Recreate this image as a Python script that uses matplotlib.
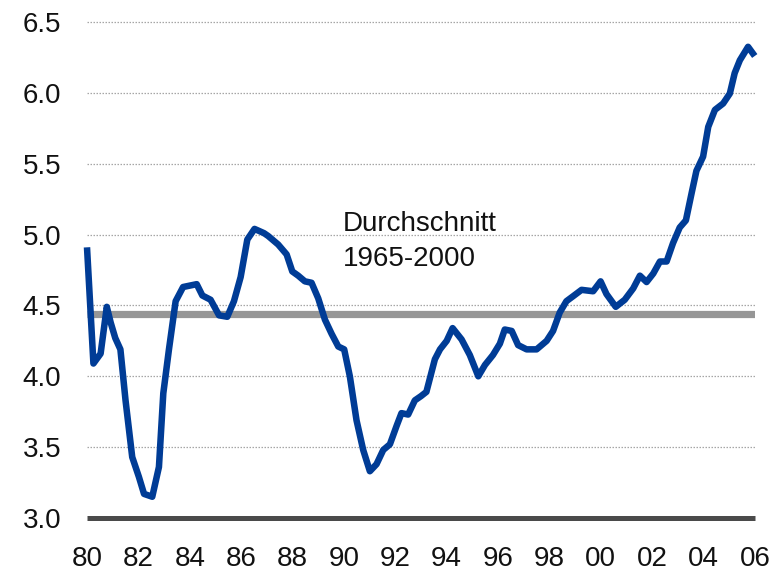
import matplotlib
matplotlib.use("Agg")
import matplotlib.pyplot as plt

years = [1980.0, 1980.25, 1980.53, 1980.77, 1980.92, 1981.1, 1981.3, 1981.5, 1981.76, 1982.02,
         1982.22, 1982.54, 1982.8, 1982.97, 1983.19, 1983.45, 1983.74, 1984.27, 1984.49, 1984.81,
         1985.14, 1985.46, 1985.72, 1985.98, 1986.24, 1986.52, 1986.89, 1987.05, 1987.44, 1987.77,
         1987.99, 1988.22, 1988.48, 1988.74, 1989.0, 1989.26, 1989.52, 1989.78, 1990.01, 1990.23,
         1990.49, 1990.75, 1991.01, 1991.27, 1991.53, 1991.79, 1992.05, 1992.24, 1992.5, 1992.76,
         1993.0, 1993.21, 1993.54, 1993.74, 1994.0, 1994.23, 1994.58, 1994.9, 1995.23, 1995.49,
         1995.8, 1996.07, 1996.26, 1996.53, 1996.78, 1997.11, 1997.5, 1997.89, 1998.14, 1998.4,
         1998.66, 1998.92, 1999.25, 1999.7, 1999.99, 2000.22, 2000.58, 2000.93, 2001.26, 2001.52,
         2001.78, 2002.04, 2002.3, 2002.56, 2002.81, 2003.07, 2003.31, 2003.53, 2003.72, 2003.98,
         2004.18, 2004.44, 2004.76, 2005.02, 2005.21, 2005.41, 2005.73, 2005.99]
values = [4.91, 4.09, 4.16, 4.49, 4.38, 4.27, 4.19, 3.83, 3.43, 3.29,
          3.17, 3.15, 3.36, 3.88, 4.19, 4.53, 4.63, 4.65, 4.57, 4.54,
          4.43, 4.42, 4.53, 4.70, 4.965, 5.04, 5.01, 4.99, 4.93, 4.86,
          4.74, 4.71, 4.67, 4.66, 4.55, 4.40, 4.30, 4.21, 4.19, 4.00,
          3.69, 3.48, 3.33, 3.38, 3.48, 3.52, 3.65, 3.74, 3.73, 3.83,
          3.86, 3.89, 4.12, 4.19, 4.25, 4.34, 4.26, 4.15, 4.00, 4.08,
          4.15, 4.23, 4.33, 4.32, 4.22, 4.19, 4.19, 4.25, 4.32, 4.45,
          4.53, 4.565, 4.61, 4.60, 4.67, 4.58, 4.49, 4.54, 4.62, 4.71,
          4.665, 4.725, 4.81, 4.81, 4.94, 5.05, 5.10, 5.29, 5.45, 5.55,
          5.76, 5.88, 5.925, 5.995, 6.14, 6.23, 6.325, 6.26]
average_1965_2000 = 4.44
x_tick_years = list(range(1980, 2007, 2))
x_tick_labels = ["80", "82", "84", "86", "88", "90", "92", "94", "96", "98", "00", "02", "04", "06"]
y_ticks = [3.0, 3.5, 4.0, 4.5, 5.0, 5.5, 6.0, 6.5]
y_tick_labels = ["3.0", "3.5", "4.0", "4.5", "5.0", "5.5", "6.0", "6.5"]
annotation = ["Durchschnitt", "1965-2000"]

plt.rcParams['font.family'] = ['Liberation Sans', 'DejaVu Sans']

fig = plt.figure(figsize=(7.83, 5.75), dpi=100)
ax = fig.add_axes([87/783, 1 - 518/575, (755 - 87)/783, (518 - 22)/575])
ax.set_xlim(1980, 2006)
ax.set_ylim(3.0, 6.5)

for y in y_ticks[1:]:
    ax.axhline(y, color='#a6a6a6', lw=0.9, ls=(0, (1.2, 1.2)), zorder=1, clip_on=False)

ax.axhline(average_1965_2000, color='#969696', lw=5.2, zorder=2, solid_capstyle='butt')
ax.axhline(3.0, color='#4a4a4a', lw=3.6, zorder=3, clip_on=False, solid_capstyle='butt')

ax.plot(years, values, color='#003c96', lw=4.7, zorder=4, solid_joinstyle='round',
        solid_capstyle='butt', clip_on=False)

ax.text(1989.96, 5.023, annotation[0], fontsize=20, color='#111111', ha='left', va='baseline')
ax.text(1989.96, 4.776, annotation[1], fontsize=20, color='#111111', ha='left', va='baseline')

for s in ax.spines.values():
    s.set_visible(False)
ax.set_xticks(x_tick_years)
ax.set_xticklabels(x_tick_labels)
ax.set_yticks(y_ticks)
ax.set_yticklabels(y_tick_labels)
ax.tick_params(axis='both', length=0, labelsize=20, colors='#111111')
ax.tick_params(axis='y', pad=18.5)
ax.tick_params(axis='x', pad=20)

fig.savefig("out.png", dpi=100)
